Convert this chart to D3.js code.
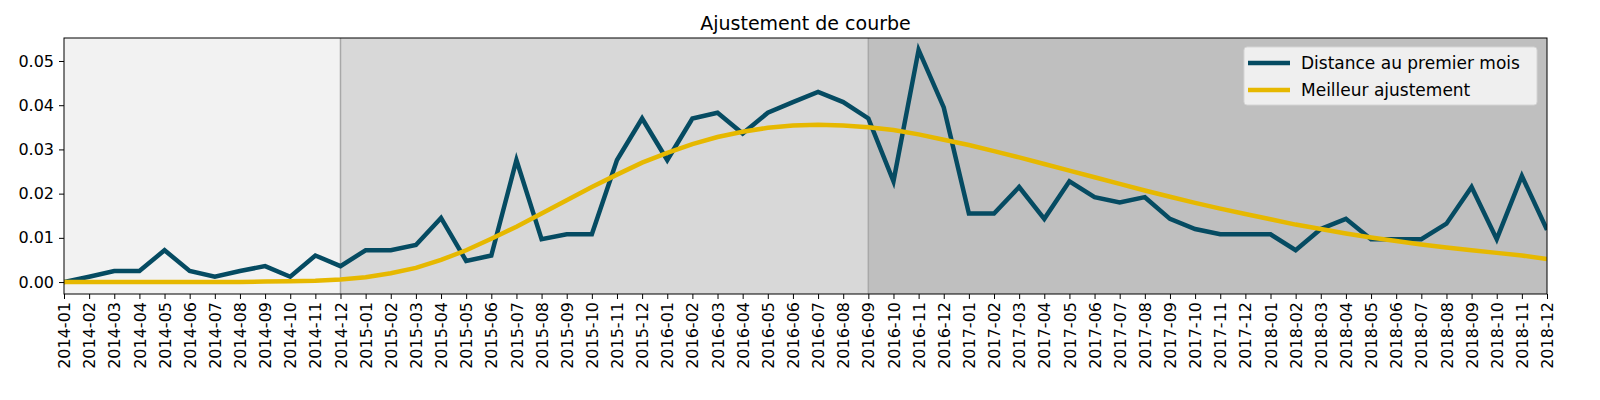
<!DOCTYPE html>
<html><head><meta charset="utf-8">
<script src="https://cdn.jsdelivr.net/npm/d3@7"></script>
<style>body{margin:0;background:#fff}text{font-family:"DejaVu Sans",sans-serif}</style>
</head><body><svg id="canvas" width="1600" height="400"></svg>
<script>
let months = []
for (let y = 2014; y <= 2018; y++) for (let m = 1; m <= 12; m++) months.push(y + '-' + String(m).padStart(2, '0'))

let distance = [0, .0012, .0025, .0025, .0072, .0025, .0012, .0025, .0036, .0012, .006, .0036,
  .0072, .0072, .0084, .0145, .0048, .006, .0276, .0097, .0108, .0108, .0276, .037,
  .0276, .037, .0383, .0336, .0383, .0407, .043, .0407, .037, .0228, .0525, .0395,
  .0155, .0155, .0215, .0143, .0228, .0192, .018, .0192, .0143, .012, .0108, .0108,
  .0108, .0072, .012, .0143, .0097, .0097, .0097, .0132, .0215, .0097, .024, .0118]

let fit = [0, 0, 0, 0, 0, 0, 0, 0, .0001, .0002, .0003, .0006,
  .0011, .002, .0032, .005, .0072, .0098, .0125, .0155, .0185, .0215, .0243, .027,
  .0292, .0312, .0328, .034, .0349, .0354, .0356, .0354, .035, .0344, .0334, .0322,
  .031, .0296, .0282, .0267, .0252, .0237, .0222, .0207, .0193, .0179, .0166, .0154,
  .0142, .013, .012, .011, .0101, .0093, .0085, .0078, .0072, .0066, .006, .0052]

let bands = [[0, 11, '#f2f2f2'], [11, 32, '#d8d8d8'], [32, 59, '#bfbfbf']]
let yTicks = [0, 0.01, 0.02, 0.03, 0.04, 0.05]

let L = 64, R = 1547, T = 38, B = 294
let svg = d3.select('#canvas')
let x = d3.scaleLinear().domain([0, 59]).range([L, R])
let y = d3.scaleLinear().domain([-0.0027, 0.0552]).range([B, T])

svg.selectAll('rect.band').data(bands).enter().append('rect')
  .attr('x', d => x(d[0])).attr('width', d => x(d[1]) - x(d[0]))
  .attr('y', T).attr('height', B - T).attr('fill', d => d[2])
svg.selectAll('line.sep').data([11, 32]).enter().append('line')
  .attr('x1', d => x(d)).attr('x2', d => x(d)).attr('y1', T).attr('y2', B)
  .attr('stroke', '#a8a8a8').attr('stroke-width', 1.5)

let line = d3.line().x((d, i) => x(i)).y(d => y(d))
svg.append('clipPath').attr('id', 'clip').append('rect')
  .attr('x', L).attr('y', T).attr('width', R - L).attr('height', B - T)
svg.append('path').datum(distance).attr('d', line).attr('fill', 'none')
  .attr('stroke', '#054b62').attr('stroke-width', 4.5).attr('clip-path', 'url(#clip)')
svg.append('path').datum(fit).attr('d', line).attr('fill', 'none')
  .attr('stroke', '#e6b800').attr('stroke-width', 4.5).attr('clip-path', 'url(#clip)')

svg.append('rect').attr('x', L).attr('y', T).attr('width', R - L).attr('height', B - T)
  .attr('fill', 'none').attr('stroke', '#000').attr('stroke-width', 1)

let yAxis = svg.append('g').attr('transform', `translate(${L},0)`)
  .call(d3.axisLeft(y).tickValues(yTicks).tickFormat(d3.format('.2f')).tickSize(5).tickPadding(5))
yAxis.select('.domain').remove()
yAxis.selectAll('text').attr('font-size', 16).attr('fill', '#000').style('font-family', 'DejaVu Sans')

let xAxis = svg.append('g').attr('transform', `translate(0,${B})`)
  .call(d3.axisBottom(x).tickValues(d3.range(60)).tickFormat(i => months[i]).tickSize(5))
xAxis.select('.domain').remove()
xAxis.selectAll('text').attr('font-size', 16).attr('fill', '#000').style('font-family', 'DejaVu Sans')
  .attr('transform', 'rotate(-90)').attr('text-anchor', 'end').attr('x', -8).attr('y', 0).attr('dy', '0.35em')

svg.append('text').attr('x', (L + R) / 2).attr('y', 30).attr('text-anchor', 'middle')
  .attr('font-size', 19).text('Ajustement de courbe')

let lg = svg.append('g').attr('transform', 'translate(1244,47)')
lg.append('rect').attr('width', 293).attr('height', 58).attr('rx', 3)
  .attr('fill', '#f2f2f2').attr('stroke', '#d6d6d6').attr('opacity', 0.95)
let items = [['Distance au premier mois', '#054b62'], ['Meilleur ajustement', '#e6b800']]
items.forEach((it, i) => {
  lg.append('line').attr('x1', 4).attr('x2', 46).attr('y1', 16 + i * 27).attr('y2', 16 + i * 27)
    .attr('stroke', it[1]).attr('stroke-width', 4.5)
  lg.append('text').attr('x', 57).attr('y', 16 + i * 27).attr('dy', '0.35em')
    .attr('font-size', 17).text(it[0])
})
</script></body></html>
